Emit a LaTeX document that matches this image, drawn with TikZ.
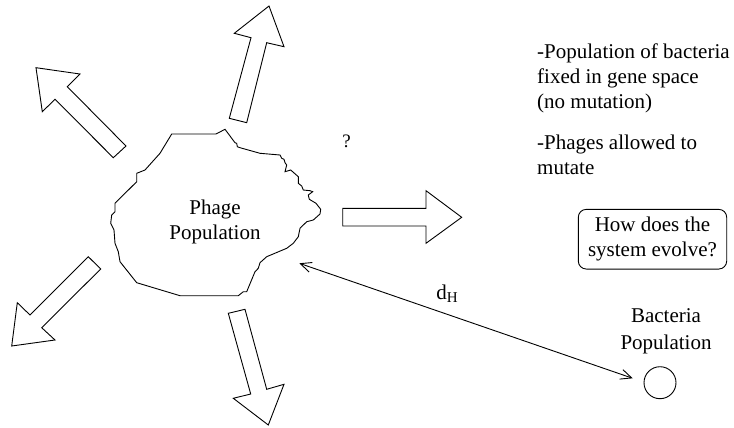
\documentclass[tikz,border=0pt]{standalone}
\usepackage{fontspec}
\setmainfont{Liberation Serif}
\usetikzlibrary{arrows.meta}
\tikzset{
  shape line/.style={draw=black, line width=0.9pt, line join=miter, fill=white},
  txt/.style={inner sep=0pt, align=center, font=\fontsize{21}{25}\selectfont},
  ltxt/.style={inner sep=0pt, align=left, font=\fontsize{21}{25}\selectfont, anchor=west},
  conn/.style={draw=black, line width=0.9pt, {Straight Barb[length=11pt,width=10pt]}-{Straight Barb[length=11pt,width=10pt]}}
}
\begin{document}
\begin{tikzpicture}[x=1pt,y=-1pt]
\useasboundingbox (0,0) rectangle (734,428);

% phage population blob
\draw[shape line] (171.7,134) -- (216,134) -- (225,129.3) -- (235,142.7) -- (236.7,143.3) -- (237.3,146.7) -- (240,147.7)
  .. controls (250,151) .. (260,153.3) -- (280,155) -- (281.7,158.3) -- (284,159.3) -- (285,162.7) -- (286.7,165)
  -- (285,171.7) -- (290.7,170) -- (298.3,176.7) -- (298.3,183.3) -- (301.7,186) -- (303.3,190) -- (310,190.7)
  -- (312.7,191.7) -- (308.3,195) -- (309.3,199.3) -- (316,203.3) -- (320.7,209.3) -- (320,214) -- (313.3,220)
  -- (306.7,221.7) -- (300,228.3) -- (298.3,236.7) -- (293.3,243.3) -- (286.7,248.3) -- (266.7,256.7) -- (260,262.7)
  -- (258.3,268.3) -- (255,271.7) -- (246.7,291.7) -- (243.3,291.7) -- (238.3,295.7) -- (180,295.7) -- (136.7,282.7)
  -- (120,261.7) -- (118.3,251.7) -- (115,243.3) -- (114,230) -- (110.7,223.3) -- (111.7,215) -- (115,211.7)
  -- (115,203.3) -- (136.7,181.7) -- (136.7,173.3) -- (145,170) -- (160,153.3) -- cycle;
\node[txt] (phage) at (215,222) {Phage\\Population};

% block arrows
\draw[shape line] (229.3,118.3) -- (251,37.7) -- (234.3,33.3) -- (269,6) -- (284,46.7) -- (266.7,42.7) -- (246.7,122.7) -- cycle;
\draw[shape line] (126,146) -- (67.3,86.7) -- (80,74) -- (36,67.7) -- (42.3,111.7) -- (55,99.3) -- (113.3,157.7) -- cycle;
\draw[shape line] (88.3,256.7) -- (100.7,269) -- (41.7,327.7) -- (55,340) -- (11.7,346) -- (17.3,302.7) -- (30,315) -- cycle;
\draw[shape line] (228.3,313.3) -- (245,309.3) -- (266.7,389.3) -- (284,384.3) -- (268.3,425) -- (233.3,398.3) -- (250.7,394) -- cycle;
\draw[shape line] (342.7,208.3) -- (426,208.3) -- (426,190.7) -- (461.7,217.3) -- (426,243.3) -- (426,226) -- (342.7,226) -- cycle;

\node[txt, font=\fontsize{19}{23}\selectfont] (q) at (346.7,141) {?};

% right-hand text
\node[ltxt] (t1) at (537,78.5) {-Population of bacteria\\fixed in gene space\\(no mutation)};
\node[ltxt] (t2) at (537,155.3) {-Phages allowed to\\mutate};
\node[txt, draw, line width=0.9pt, rounded corners=8pt, minimum width=148.4pt, minimum height=59.7pt] (q2) at (652.5,239.2) {How does the\\system evolve?};

% bacteria
\node[txt, font=\fontsize{21}{27}\selectfont] (bact) at (666,331) {Bacteria\\Population};
\node[draw, circle, line width=0.9pt, minimum size=32pt, inner sep=0pt] (bc) at (660,382.7) {};

\coordinate (dA) at (299.3,263.3);
\coordinate (dB) at (632.7,378.3);
\draw[conn] (dA) -- (dB);
\node[txt] (dh) at (447,294) {d\raisebox{-0.3ex}{\fontsize{15}{15}\selectfont H}};
\end{tikzpicture}
\end{document}
